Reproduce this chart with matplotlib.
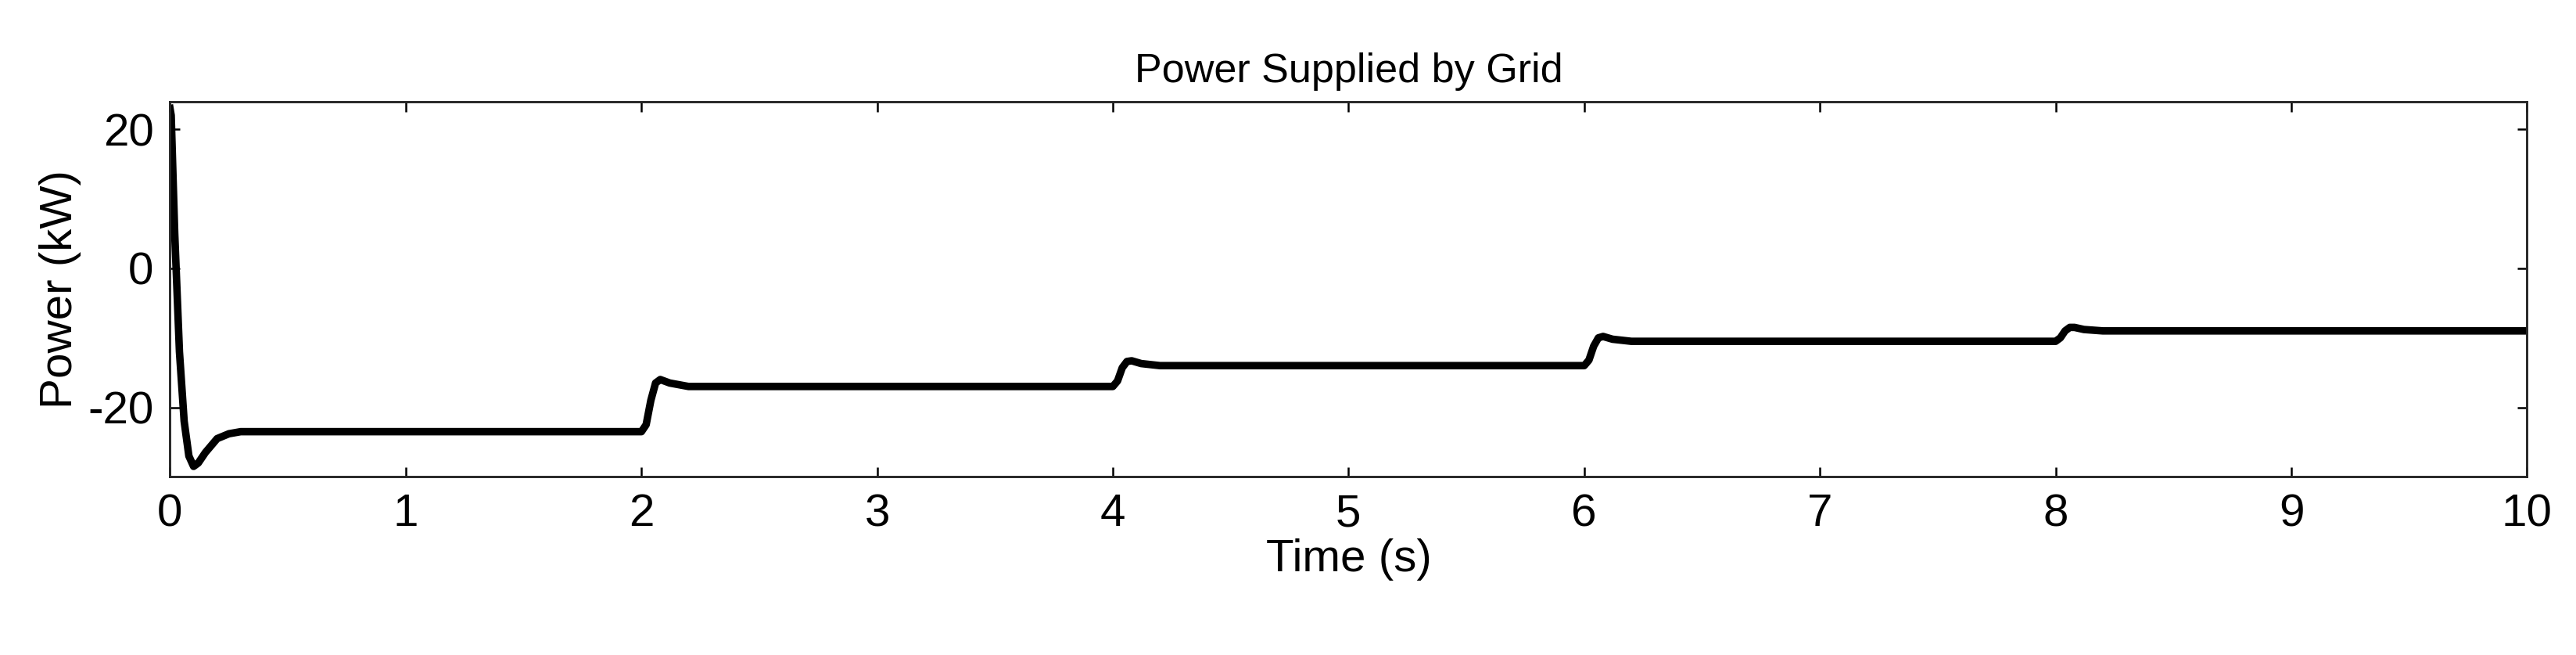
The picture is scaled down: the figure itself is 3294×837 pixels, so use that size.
import matplotlib
matplotlib.use("Agg")
import matplotlib.pyplot as plt

time_s = [0.0, 0.005, 0.02, 0.04, 0.06, 0.08, 0.10, 0.12, 0.15, 0.20, 0.25, 0.30, 0.5,
          2.0, 2.02, 2.04, 2.06, 2.08, 2.12, 2.2, 2.3,
          4.0, 4.02, 4.04, 4.06, 4.08, 4.12, 4.2,
          6.0, 6.02, 6.04, 6.06, 6.08, 6.12, 6.2,
          8.0, 8.02, 8.04, 8.06, 8.08, 8.12, 8.2, 10.0]
power_kw = [23.0, 22.0, 5.0, -12.0, -22.0, -27.0, -28.5, -28.0, -26.5, -24.5, -23.8, -23.5, -23.5,
            -23.5, -22.5, -19.0, -16.5, -16.0, -16.5, -17.0, -17.0,
            -17.0, -16.2, -14.3, -13.4, -13.3, -13.7, -14.0,
            -14.0, -13.2, -11.2, -10.0, -9.8, -10.2, -10.5,
            -10.5, -10.0, -9.0, -8.5, -8.5, -8.8, -9.0, -9.0]
xticks = list(range(0, 11))
yticks = [-20, 0, 20]

plt.rcParams['font.family'] = ['Liberation Sans', 'DejaVu Sans']
plt.rcParams['axes.unicode_minus'] = False
fig = plt.figure(figsize=(3294/300, 837/300), dpi=300)
ax = fig.add_axes([0.066, 0.272, 0.915, 0.573])
ax.plot(time_s, power_kw, color='black', lw=2.3)
ax.set_xlim(0, 10)
ax.set_ylim(-30, 24)
ax.set_xticks(xticks)
ax.set_yticks(yticks)
ax.tick_params(direction='in', top=True, right=True, labelsize=14, length=3, width=0.6, pad=5)
for s in ax.spines.values():
    s.set_linewidth(0.7)
    s.set_color('#262626')
ax.set_xlabel('Time (s)', fontsize=14, labelpad=1)
ax.set_ylabel('Power (kW)', fontsize=14, labelpad=2)
ax.set_title('Power Supplied by Grid', fontsize=12.5, pad=6)
fig.savefig('out.png', dpi=300)
